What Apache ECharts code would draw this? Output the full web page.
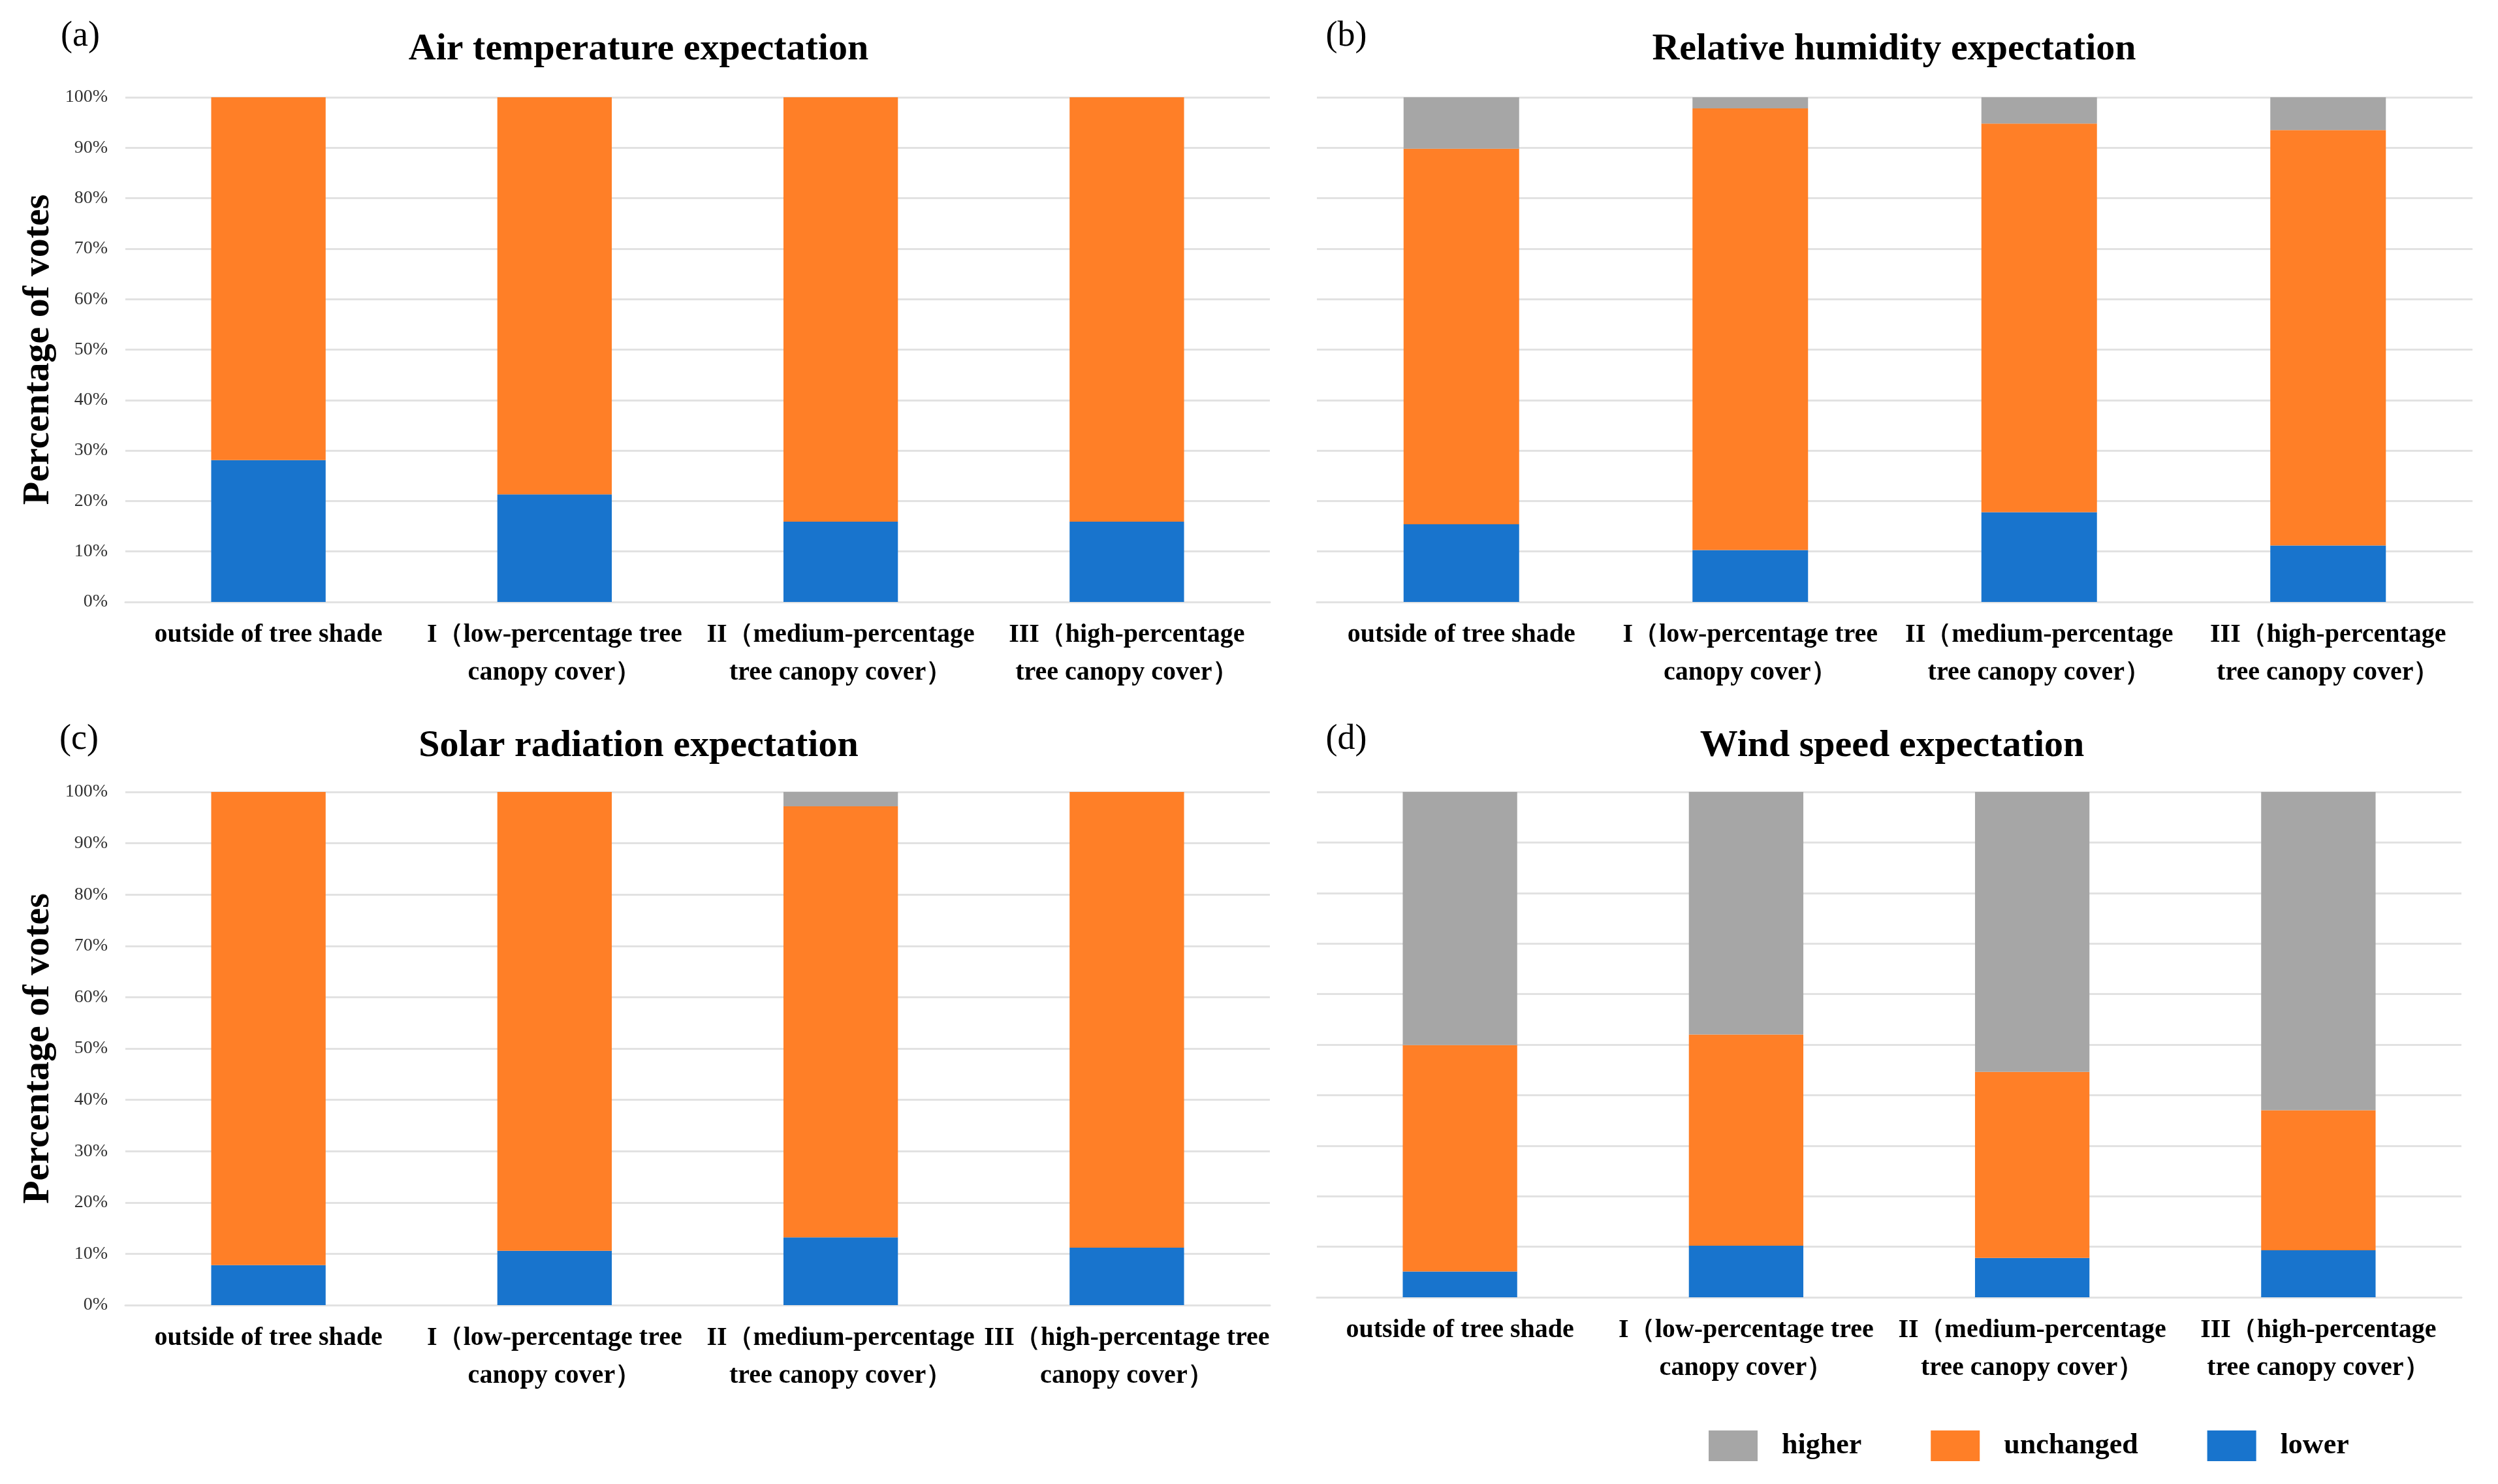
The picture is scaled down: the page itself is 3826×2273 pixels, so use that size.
<!DOCTYPE html>
<html>
<head>
<meta charset="utf-8">
<script src="https://cdn.jsdelivr.net/npm/echarts@6/dist/echarts.min.js"></script>
<style>
html,body{margin:0;padding:0;background:#fff;}
#chart{width:3826px;height:2273px;}
</style>
</head>
<body>
<div id="chart"></div>
<script>
// ---- data ----
var labelsA = ['outside of tree shade', 'I（low-percentage tree\ncanopy cover）', 'II（medium-percentage\ntree canopy cover）', 'III（high-percentage\ntree canopy cover）'];
var labelsB = ['outside of tree shade', 'I（low-percentage tree\ncanopy cover）', 'II（medium-percentage\ntree canopy cover）', 'III（high-percentage\ntree canopy cover）'];
var labelsC = ['outside of tree shade', 'I（low-percentage tree\ncanopy cover）', 'II（medium-percentage\ntree canopy cover）', 'III（high-percentage tree\ncanopy cover）'];
var labelsD = ['outside of tree shade', 'I（low-percentage tree\ncanopy cover）', 'II（medium-percentage\ntree canopy cover）', 'III（high-percentage\ntree canopy cover）'];

var airLower     = [28.1, 21.3, 15.9, 15.9];
var airUnchanged = [71.9, 78.7, 84.1, 84.1];
var airHigher    = [0, 0, 0, 0];

var humLower     = [15.4, 10.3, 17.8, 11.2];
var humUnchanged = [74.4, 87.5, 77.0, 82.3];
var humHigher    = [10.2, 2.2, 5.2, 6.5];

var solLower     = [7.8, 10.6, 13.2, 11.2];
var solUnchanged = [92.2, 89.4, 84.0, 88.8];
var solHigher    = [0, 0, 2.8, 0];

var windLower     = [5.1, 10.2, 7.8, 9.3];
var windUnchanged = [44.8, 41.8, 36.8, 27.7];
var windHigher    = [50.1, 48.0, 55.4, 63.0];

var panelTitles = ['Air temperature expectation', 'Relative humidity expectation', 'Solar radiation expectation', 'Wind speed expectation'];
var panelTags = ['(a)', '(b)', '(c)', '(d)'];
var seriesNames = ['higher', 'unchanged', 'lower'];
var yTitle = 'Percentage of votes';

// ---- styles ----
var SERIF = '"Liberation Serif", "Times New Roman", "Noto Serif", serif';
var colors = {higher: '#A6A6A6', unchanged: '#FF7F27', lower: '#1874CD'};
var gridColor = '#E2E2E2';

var grids = [
  {left: 192, right: 1881, top: 149, bottom: 1351},
  {left: 2017, right: 39, top: 149, bottom: 1351},
  {left: 192, right: 1881, top: 1213, bottom: 274},
  {left: 2017, right: 56, top: 1213, bottom: 286}
];
var allLabels = [labelsA, labelsB, labelsC, labelsD];
var lowers = [airLower, humLower, solLower, windLower];
var unchangeds = [airUnchanged, humUnchanged, solUnchanged, windUnchanged];
var highers = [airHigher, humHigher, solHigher, windHigher];
var showY = [true, false, true, false];

var xAxes = [], yAxes = [], series = [];
for (var i = 0; i < 4; i++) {
  xAxes.push({
    type: 'category', gridIndex: i, data: allLabels[i],
    axisLine: {show: true, lineStyle: {color: gridColor, width: 3}},
    axisTick: {show: false},
    axisLabel: {interval: 0, hideOverlap: false, margin: 22, color: '#000',
      fontFamily: SERIF, fontWeight: 'bold', fontSize: 40, lineHeight: 58}
  });
  yAxes.push({
    type: 'value', gridIndex: i, min: 0, max: 100, interval: 10,
    name: showY[i] ? yTitle : '',
    nameLocation: 'middle', nameRotate: 90, nameGap: 104,
    nameTextStyle: {fontFamily: SERIF, fontWeight: 'bold', fontSize: 58, color: '#000'},
    axisLine: {show: false}, axisTick: {show: false},
    axisLabel: {show: showY[i], formatter: '{value}%', margin: 27, color: '#333',
      fontFamily: SERIF, fontSize: 28},
    splitLine: {show: true, lineStyle: {color: gridColor, width: 3}}
  });
  var stackId = 'p' + i;
  series.push({name: 'lower', type: 'bar', stack: stackId, xAxisIndex: i, yAxisIndex: i,
    data: lowers[i], barWidth: '40%', itemStyle: {color: colors.lower}});
  series.push({name: 'unchanged', type: 'bar', stack: stackId, xAxisIndex: i, yAxisIndex: i,
    data: unchangeds[i], barWidth: '40%', itemStyle: {color: colors.unchanged}});
  series.push({name: 'higher', type: 'bar', stack: stackId, xAxisIndex: i, yAxisIndex: i,
    data: highers[i], barWidth: '40%', itemStyle: {color: colors.higher}});
}

var titlePos = [[978, 76], [2901, 76], [978, 1143], [2898, 1143]];
var tagPos = [[123, 56], [2062, 56], [121, 1133], [2062, 1133]];
var graphics = [];
for (var j = 0; j < 4; j++) {
  graphics.push({type: 'text', x: titlePos[j][0], y: titlePos[j][1],
    style: {text: panelTitles[j], textAlign: 'center', textVerticalAlign: 'middle',
      font: 'bold 58px ' + SERIF, fill: '#000'}});
  graphics.push({type: 'text', x: tagPos[j][0], y: tagPos[j][1],
    style: {text: panelTags[j], textAlign: 'center', textVerticalAlign: 'middle',
      font: '54px ' + SERIF, fill: '#000'}});
}

var chart = echarts.init(document.getElementById('chart'), null, {renderer: 'canvas'});
chart.setOption({
  backgroundColor: '#fff',
  animation: false,
  grid: grids,
  xAxis: xAxes,
  yAxis: yAxes,
  legend: {
    data: seriesNames, left: 2612, top: 2186, orient: 'horizontal',
    icon: 'rect', itemWidth: 75, itemHeight: 47, itemGap: 106,
    textStyle: {fontFamily: SERIF, fontWeight: 'bold', fontSize: 44, color: '#000',
      padding: [0, 0, 0, 32]}
  },
  graphic: graphics,
  series: series
});
</script>
</body>
</html>
